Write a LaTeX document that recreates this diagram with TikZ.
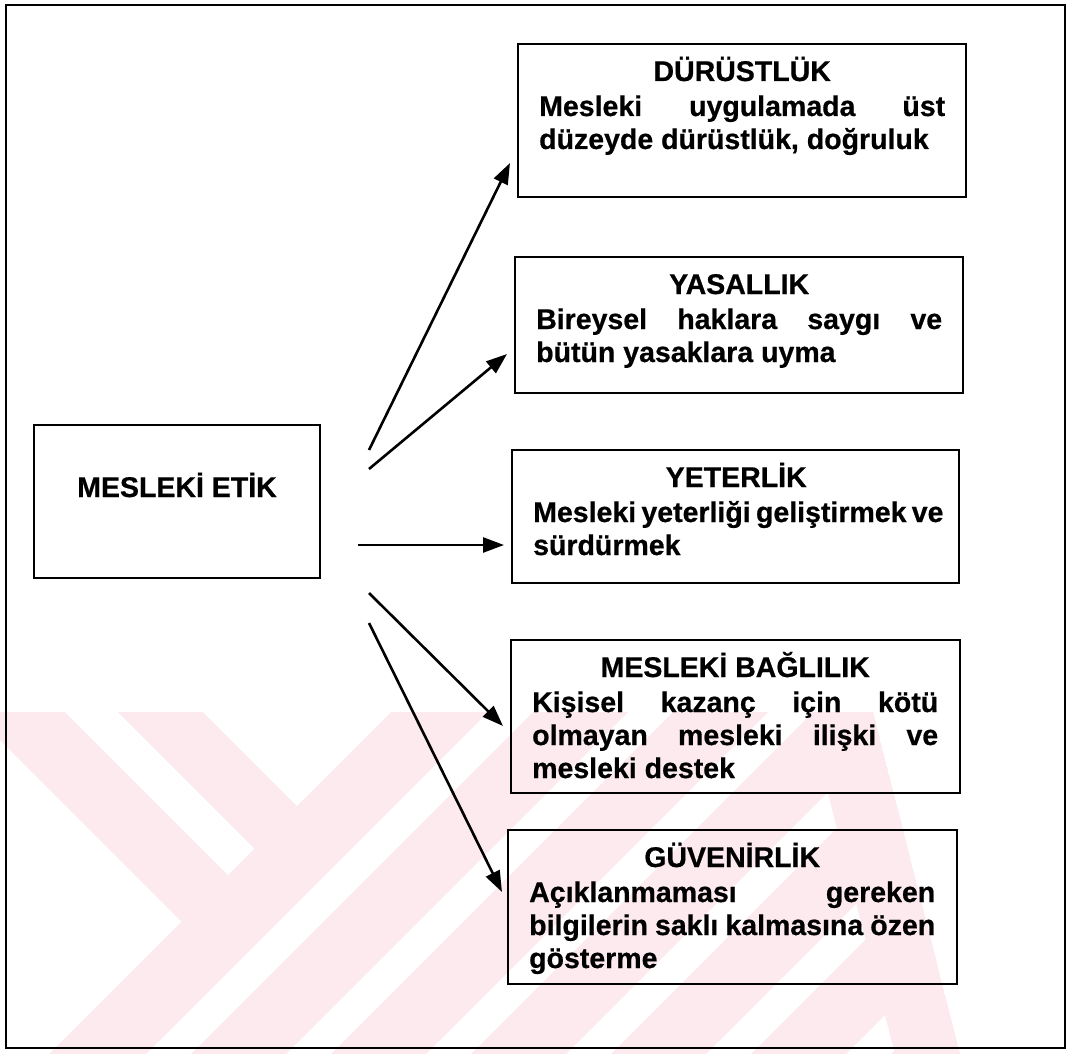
\documentclass[tikz,border=0pt]{standalone}
\usepackage{fontspec}
\setmainfont{Liberation Sans}[BoldFeatures={FakeBold=0.6}]
\usetikzlibrary{arrows.meta,calc}
\definecolor{wmpink}{RGB}{252,234,239}
\newcommand\ttlline[1]{\hbox to\hsize{\hss#1\hss}\vskip2pt\relax}
\newcommand\jstline[1]{\hbox to\hsize{#1}}
\newcommand\lstline[1]{\hbox{#1}}
\newcommand\boxtxt[1]{\parbox[t]{406pt}{\baselineskip=33pt\lineskiplimit=-30pt\relax #1}}
\tikzset{
  boxst/.style={draw, line width=2.6pt, inner sep=0pt, outer sep=0pt, anchor=north west},
  txt/.style={inner sep=0pt, font=\bfseries\fontsize{28.5}{33}\selectfont},
  arr/.style={line width=2.6pt, -{Triangle[length=21pt,width=15pt]}},
  outerframe/.style={line width=2.3pt},
  wm/.style={fill=wmpink}
}
\begin{document}
\begin{tikzpicture}[x=1pt,y=-1pt]
\useasboundingbox (0,0) rectangle (1073,1054);
% watermark
\begin{scope}
  \clip (0,712) -- (873,712) -- (960,1054) -- (0,1054) -- cycle;
  \fill[wm] (-28,712) -- (65,712) -- (228,875) -- (181.5,921.5) -- cycle;
  \fill[wm] (118,712) -- (203,712) -- (297,806) -- (254.5,848.5) -- cycle;
  \foreach \a/\b in {1103/1200,1245/1340,1385/1480,1525/1620,1665/1760,1805/1900,1945/2040}{
    \fill[wm] ({\a-712},712) -- ({\b-712},712) -- ({\b-1054},1054) -- ({\a-1054},1054) -- cycle;
  }
  \fill[wm] (807,712) -- (873,712) -- (960,1054) -- (895,1054) -- cycle;
\end{scope}
% outer frame
\draw[outerframe] (6,5) rectangle (1065,1048);
% left box
\node[boxst, minimum width=286pt, minimum height=153pt] (etik) at (34,425) {};
\node[txt, anchor=base] (etiktext) at ($(etik.north)+(0,72)$) {MESLEKİ ETİK};
% right boxes
\node[boxst, minimum width=448pt, minimum height=153pt] (b1) at (518,44) {};
\node[boxst, minimum width=448pt, minimum height=136pt] (b2) at (515,257) {};
\node[boxst, minimum width=447pt, minimum height=133pt] (b3) at (512,450) {};
\node[boxst, minimum width=449pt, minimum height=153pt] (b4) at (511,640) {};
\node[boxst, minimum width=449pt, minimum height=154pt] (b5) at (508,830) {};
\node[txt, anchor=base west] (b1text) at ($(b1.north west)+(21,37)$) {\boxtxt{%
  \ttlline{DÜRÜSTLÜK}
  \jstline{Mesleki uygulamada üst}
  \lstline{düzeyde dürüstlük, doğruluk}}};
\node[txt, anchor=base west] (b2text) at ($(b2.north west)+(21,37)$) {\boxtxt{%
  \ttlline{YASALLIK}
  \jstline{Bireysel haklara saygı ve}
  \lstline{bütün yasaklara uyma}}};
\node[txt, anchor=base west] (b3text) at ($(b3.north west)+(21,37)$) {\boxtxt{%
  \ttlline{YETERLİK}
  \jstline{Mesleki yeterliği geliştirmek ve}
  \lstline{sürdürmek}}};
\node[txt, anchor=base west] (b4text) at ($(b4.north west)+(21,37)$) {\boxtxt{%
  \ttlline{MESLEKİ BAĞLILIK}
  \jstline{Kişisel kazanç için kötü}
  \jstline{olmayan mesleki ilişki ve}
  \lstline{mesleki destek}}};
\node[txt, anchor=base west] (b5text) at ($(b5.north west)+(21,37)$) {\boxtxt{%
  \ttlline{GÜVENİRLİK}
  \jstline{Açıklanmaması gereken}
  \jstline{bilgilerin saklı kalmasına özen}
  \lstline{gösterme}}};
% arrow ends
\coordinate (s1) at ($(etik.north east)+(49,25)$);
\coordinate (s2) at ($(etik.north east)+(49,44)$);
\coordinate (s3) at ($(etik.north east)+(38,120)$);
\coordinate (s4) at ($(etik.north east)+(49,168)$);
\coordinate (s5) at ($(etik.north east)+(49,198)$);
\coordinate (t1) at ($(b1.north west)+(-8,119)$);
\coordinate (t2) at ($(b2.north west)+(-8,97)$);
\coordinate (t3) at ($(b3.north west)+(-8,95)$);
\coordinate (t4) at ($(b4.north west)+(-8,86)$);
\coordinate (t5) at ($(b5.north west)+(-6,62)$);
\draw[arr] (s1) -- (t1);
\draw[arr] (s2) -- (t2);
\draw[arr] (s3) -- (t3);
\draw[arr] (s4) -- (t4);
\draw[arr] (s5) -- (t5);
\end{tikzpicture}
\end{document}
